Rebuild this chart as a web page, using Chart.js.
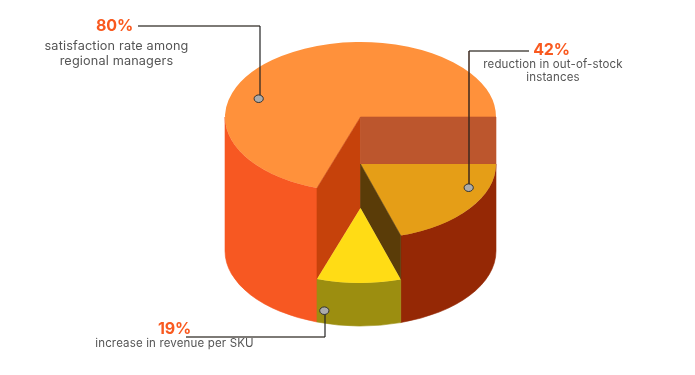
<!DOCTYPE html>
<html>
<head>
<meta charset="utf-8">
<style>
  html, body { margin: 0; padding: 0; background: #fff; }
  canvas { display: block; }
</style>
</head>
<body>
<canvas id="pie3d" width="695" height="375"></canvas>
<script src="https://cdn.jsdelivr.net/npm/chart.js@4"></script>
<script>
const sliceNames = ['Out-of-stock reduction', 'Revenue per SKU', 'Satisfaction rate'];
const sliceValues = [20.2, 10, 69.8];
const statLabels = ['42%', '19%', '80%'];
const statTexts = [
  ['reduction in out-of-stock', 'instances'],
  ['increase in revenue per SKU'],
  ['satisfaction rate among', 'regional managers']
];
const topColors = ['#E59E17', '#FFDC15', '#FF913B'];
const wallColors = ['#952805', '#9C8E10', '#F75822'];

// y of each slice's top face centre, and of the base of the whole cylinder
const topCentres = [164, 208, 117];
const baseCentre = 251;
const squash = 75 / 135.5;

// step faces between the levels: slice, which end of it, level below, colour
const stepFaces = [
  { slice: 2, end: 'start', below: 1, color: '#C6420B' },
  { slice: 2, end: 'end', below: 0, color: '#BC562D' },
  { slice: 0, end: 'end', below: 1, color: '#5A3C08' }
];

const callouts = [
  { slice: 2, line: [[138, 26], [260, 26]], drop: [[260, 26], [260, 98]], dot: [258.7, 98.7],
    titleAt: [114.5, 31], textAt: [116.5, 50], size: 12.7, gap: 15 },
  { slice: 0, line: [[529, 51], [469, 51]], drop: [[469, 51], [469, 187]], dot: [468.7, 187.7],
    titleAt: [551.5, 55], textAt: [553, 68], size: 11.5, gap: 13 },
  { slice: 1, line: [[186, 337], [325, 337]], drop: [[325, 337], [325, 311]], dot: [324.3, 310.7],
    titleAt: [174.5, 334], textAt: [174.5, 347], size: 11.5, gap: 13 }
];

function wall(ctx, arc, rx, ry, topY) {
  let a0 = Math.max(arc.startAngle, 0);
  let a1 = Math.min(arc.endAngle, Math.PI);
  ctx.beginPath();
  ctx.ellipse(arc.x, topY, rx, ry, 0, a0, a1);
  ctx.ellipse(arc.x, baseCentre, rx, ry, 0, a1, a0, true);
  ctx.closePath();
  ctx.fill();
  ctx.stroke();
}

function face(ctx, arc, rx, ry, angle, topY, lowY) {
  let ex = rx * Math.cos(angle);
  let ey = ry * Math.sin(angle);
  ctx.beginPath();
  ctx.moveTo(arc.x, topY);
  ctx.lineTo(arc.x + ex, topY + ey);
  ctx.lineTo(arc.x + ex, lowY + ey);
  ctx.lineTo(arc.x, lowY);
  ctx.closePath();
  ctx.fill();
  ctx.stroke();
}

function drawTop(ctx, arc, y) {
  ctx.save();
  ctx.translate(arc.x, y);
  ctx.scale(1, squash);
  ctx.translate(-arc.x, -arc.y);
  arc.draw(ctx);
  ctx.restore();
}

const pie3d = {
  id: 'pie3d',
  beforeDatasetsDraw(chart) {
    const ctx = chart.ctx;
    const arcs = chart.getDatasetMeta(0).data;
    const rx = arcs[0].outerRadius;
    const ry = rx * squash;
    ctx.lineWidth = 0.6;

    // big slice first, then the lower levels on top of it
    [2, 0, 1].forEach(i => {
      ctx.fillStyle = wallColors[i];
      ctx.strokeStyle = wallColors[i];
      wall(ctx, arcs[i], rx, ry, topCentres[i]);
      drawTop(ctx, arcs[i], topCentres[i]);
      stepFaces.filter(f => f.slice === i).forEach(f => {
        let angle = f.end === 'start' ? arcs[i].startAngle : arcs[i].endAngle;
        ctx.fillStyle = f.color;
        ctx.strokeStyle = f.color;
        ctx.lineWidth = 0.6;
        face(ctx, arcs[i], rx, ry, angle, topCentres[i], topCentres[f.below]);
      });
    });
    return false;
  },
  afterDraw(chart) {
    const ctx = chart.ctx;
    callouts.forEach(c => {
      ctx.strokeStyle = 'rgba(70,65,60,0.7)';
      ctx.lineWidth = 2;
      ctx.beginPath();
      ctx.moveTo(c.line[0][0], c.line[0][1]);
      ctx.lineTo(c.line[1][0], c.line[1][1]);
      ctx.stroke();
      ctx.strokeStyle = c.slice === 0 ? 'rgba(60,40,30,0.75)' : '#222';
      ctx.lineWidth = c.slice === 0 ? 2 : 1.2;
      ctx.beginPath();
      ctx.moveTo(c.drop[0][0], c.drop[0][1]);
      ctx.lineTo(c.drop[1][0], c.drop[1][1]);
      ctx.stroke();

      ctx.beginPath();
      ctx.ellipse(c.dot[0], c.dot[1], 4.6, 3.8, 0, 0, Math.PI * 2);
      ctx.fillStyle = '#ABABAB';
      ctx.fill();
      ctx.strokeStyle = '#333';
      ctx.lineWidth = 1;
      ctx.stroke();

      ctx.textAlign = 'center';
      ctx.textBaseline = 'alphabetic';
      ctx.fillStyle = '#F9591F';
      ctx.font = '700 16px Inter';
      ctx.letterSpacing = '-0.2px';
      ctx.fillText(statLabels[c.slice], c.titleAt[0], c.titleAt[1]);
      ctx.fillStyle = '#555555';
      ctx.font = '400 ' + c.size + 'px Inter';
      ctx.letterSpacing = '0.15px';
      statTexts[c.slice].forEach((t, n) => {
        ctx.fillText(t, c.textAt[0], c.textAt[1] + n * c.gap);
      });
    });
  }
};

new Chart(document.getElementById('pie3d'), {
  type: 'pie',
  data: {
    labels: sliceNames,
    datasets: [{
      data: sliceValues,
      backgroundColor: topColors,
      borderWidth: 0
    }]
  },
  options: {
    responsive: false,
    animation: false,
    rotation: 90,
    layout: { padding: { left: 225, right: 199, top: 50, bottom: 54 } },
    plugins: { legend: { display: false }, tooltip: { enabled: false } }
  },
  plugins: [pie3d]
});
</script>
</body>
</html>
